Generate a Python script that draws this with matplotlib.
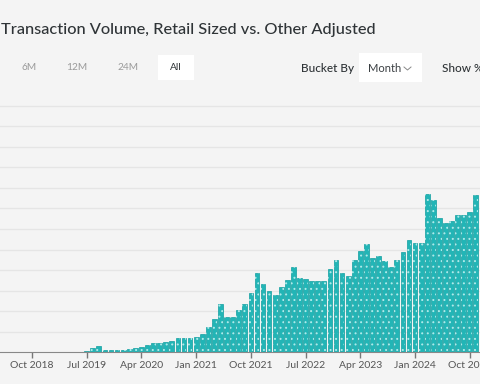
import matplotlib.pyplot as plt
import pandas as pd
from matplotlib.lines import Line2D
from matplotlib.patches import Rectangle

plt.rcParams['font.family'] = ['Lato', 'DejaVu Sans']

# monthly adjusted volume, Jul 2019 .. Nov 2024 (one gridline = 10)
first_month = "2019-07"
volume = [0.6, 1.9, 3.3, 1.3, 1.3, 1.0,
          1.0, 1.6, 1.9, 2.6, 3.6, 4.5, 4.5, 4.9, 5.5, 6.8, 6.8, 6.8,
          7.4, 9.0, 12.3, 16.2, 23.5, 17.0, 17.0, 20.8, 23.5, 28.8, 38.8, 33.3,
          29.7, 27.7, 31.6, 35.2, 41.6, 36.1, 35.8, 34.8, 34.5, 34.5, 40.3, 44.8,
          38.6, 37.0, 45.0, 49.5, 52.7, 45.9, 47.1, 44.2, 41.4, 44.8, 48.7, 54.6,
          53.2, 53.2, 77.2, 74.1, 65.5, 63.1, 64.1, 66.8, 67.0, 68.5, 76.5]
tick_labels = ["Oct 2018", "Jul 2019", "Apr 2020", "Jan 2021", "Oct 2021",
               "Jul 2022", "Apr 2023", "Jan 2024", "Oct 2024"]
range_buttons = ["6M", "12M", "24M", "All"]
range_x = [29, 77, 128, 176]

bg = "#f4f4f4"
teal = "#22b5b6"


def month_num(p):
    return (p.year - 2018) * 12 + p.month - 1


months = pd.period_range(first_month, periods=len(volume), freq="M")
x = [month_num(p) for p in months]
tick_x = [month_num(pd.Period(t, freq="M")) for t in tick_labels]

fig = plt.figure(figsize=(4.8, 3.84), dpi=100, facecolor=bg)
ax = fig.add_axes([0, 0.0826, 1, 0.6421 * 122 / 120])
ax.set_facecolor(bg)

ax.bar(x, volume, width=0.78, color=teal, edgecolor="#129e9f", linewidth=0.5, zorder=2)
plt.rcParams['hatch.linewidth'] = 0.7
ax.bar(x, volume, width=0.78, color="none", edgecolor="#aee9e9", hatch="...",
       linewidth=0, zorder=3)

ax.set_xlim(3.74, 82.68)
ax.set_ylim(0, 122)
ax.set_yticks(range(10, 121, 10))
ax.yaxis.grid(True, color="#e5e5e5", linewidth=1)
ax.set_axisbelow(True)
ax.tick_params(axis="y", left=False, labelleft=False)
ax.set_xticks(tick_x)
ax.set_xticklabels(tick_labels)
ax.tick_params(axis="x", length=4, width=1, color="#777777", labelcolor="#555555",
               labelsize=7.5, pad=2)
for s in ["top", "left", "right"]:
    ax.spines[s].set_visible(False)
ax.spines["bottom"].set_color("#888888")
ax.spines["bottom"].set_zorder(4)

# header
fig.text(0.002, 1 - 30 / 384, "Transaction Volume, Retail Sized vs. Other Adjusted",
         fontsize=11.8, color="#2f3437", va="center", ha="left", fontweight="medium")

fig.add_artist(Rectangle((158 / 480, 1 - 80 / 384), 36 / 480, 25 / 384,
                         transform=fig.transFigure, facecolor="white", edgecolor="none"))
fig.add_artist(Rectangle((359 / 480, 1 - 82 / 384), 63 / 480, 29 / 384,
                         transform=fig.transFigure, facecolor="white", edgecolor="none"))
for lbl, bx in zip(range_buttons, range_x):
    fig.text(bx / 480, 1 - 68 / 384, lbl, fontsize=7.3, ha="center", va="center",
             color="#2f3437" if lbl == "All" else "#9a9a9a")

fig.text(301 / 480, 1 - 68 / 384, "Bucket By", fontsize=8.5, ha="left", va="center",
         color="#2f3437", fontweight="medium")
fig.text(368 / 480, 1 - 68 / 384, "Month", fontsize=8, ha="left", va="center",
         color="#3a3f42")
fig.add_artist(Line2D([404 / 480, 407.5 / 480, 411 / 480],
                      [1 - 67 / 384, 1 - 70 / 384, 1 - 67 / 384],
                      transform=fig.transFigure, color="#888888", linewidth=0.7))
fig.text(442 / 480, 1 - 68 / 384, "Show %", fontsize=8.5, ha="left", va="center",
         color="#2f3437", fontweight="medium")

fig.savefig("out.png", dpi=100, facecolor=bg)
